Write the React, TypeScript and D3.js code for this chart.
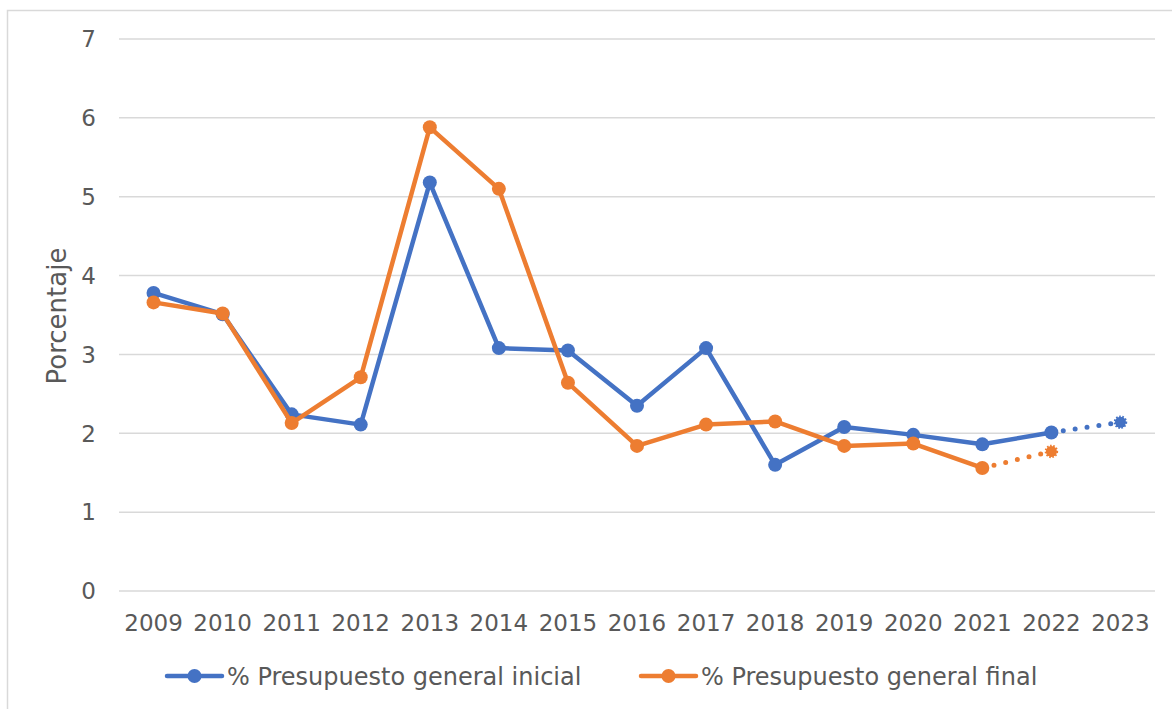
import React from "react";
import * as d3 from "d3";

const years = ["2009","2010","2011","2012","2013","2014","2015","2016","2017","2018","2019","2020","2021","2022","2023"];
const initialValues = [3.78, 3.51, 2.24, 2.11, 5.18, 3.08, 3.05, 2.35, 3.08, 1.60, 2.08, 1.98, 1.86, 2.01, 2.14];
const finalValues = [3.66, 3.52, 2.13, 2.71, 5.88, 5.10, 2.64, 1.84, 2.11, 2.15, 1.84, 1.87, 1.56, 1.77];
const initialProjectedFrom = 13; // index where dotted segment begins
const finalProjectedFrom = 12;
const yTicks = [0, 1, 2, 3, 4, 5, 6, 7];
const seriesNames = ["% Presupuesto general inicial", "% Presupuesto general final"];
const colors = ["#4472C4", "#ED7D31"];
const yTitle = "Porcentaje";

const W = 1172, H = 709;
const FONT = "'DejaVu Sans', sans-serif";
const TXT = "#595959";

export default function App() {
  const x = d3.scaleBand<string>().domain(years).range([119, 1155]).padding(0);
  const cx = (i: number) => (x(years[i]) as number) + x.bandwidth() / 2;
  const y = d3.scaleLinear().domain([0, 7]).range([591, 39]);
  const line = d3.line<[number, number]>().x(d => d[0]).y(d => d[1]);

  const series = [
    { vals: initialValues, proj: initialProjectedFrom, color: colors[0] },
    { vals: finalValues, proj: finalProjectedFrom, color: colors[1] },
  ];

  return (
    <div style={{ position: "absolute", left: 0, top: 0 }}>
      <svg width={W} height={H} style={{ display: "block", background: "#fff" }}>
        <path d={`M7.5,${H} V10.5 H${W}`} fill="none" stroke="#d9d9d9" strokeWidth={1.5} />
        {yTicks.map(t => (
          <g key={t}>
            <line x1={119} x2={1155} y1={y(t)} y2={y(t)} stroke="#d9d9d9" strokeWidth={1.5} />
            <text x={96} y={y(t)} dy="0.36em" textAnchor="end" fontFamily={FONT} fontSize={23} fill={TXT}>{t}</text>
          </g>
        ))}
        {years.map((yr, i) => (
          <text key={yr} x={cx(i)} y={631} textAnchor="middle" fontFamily={FONT} fontSize={23} fill={TXT}>{yr}</text>
        ))}
        <text transform={`translate(66,316) rotate(-90)`} textAnchor="middle" fontFamily={FONT} fontSize={26} fill={TXT}>{yTitle}</text>
        {series.map((s, si) => {
          const pts = s.vals.map((v, i) => [cx(i), y(v)] as [number, number]);
          const solid = pts.slice(0, s.proj + 1);
          const dotted = pts.slice(s.proj);
          return (
            <g key={si}>
              <path d={line(solid) || ""} fill="none" stroke={s.color} strokeWidth={4.5} strokeLinejoin="round" />
              <path d={line(dotted) || ""} fill="none" stroke={s.color} strokeWidth={5} strokeDasharray="0,12" strokeDashoffset={-12} strokeLinecap="round" />
              {solid.map((p, i) => (
                <circle key={i} cx={p[0]} cy={p[1]} r={7} fill={s.color} />
              ))}
              {dotted.slice(1).map((p, i) => (
                <circle key={"d" + i} cx={p[0]} cy={p[1]} r={5.5} fill={s.color} stroke={s.color} strokeWidth={2.5} strokeDasharray="1.5,1.5" />
              ))}
            </g>
          );
        })}
        {seriesNames.map((name, i) => {
          const lx = i === 0 ? 167 : 641;
          return (
            <g key={name}>
              <line x1={lx} x2={lx + 55} y1={676} y2={676} stroke={colors[i]} strokeWidth={4.5} strokeLinecap="round" />
              <circle cx={lx + 27.5} cy={676} r={7} fill={colors[i]} />
              <text x={lx + 60} y={676} dy="0.36em" fontFamily={FONT} fontSize={24} fill={TXT}>{name}</text>
            </g>
          );
        })}
      </svg>
    </div>
  );
}
